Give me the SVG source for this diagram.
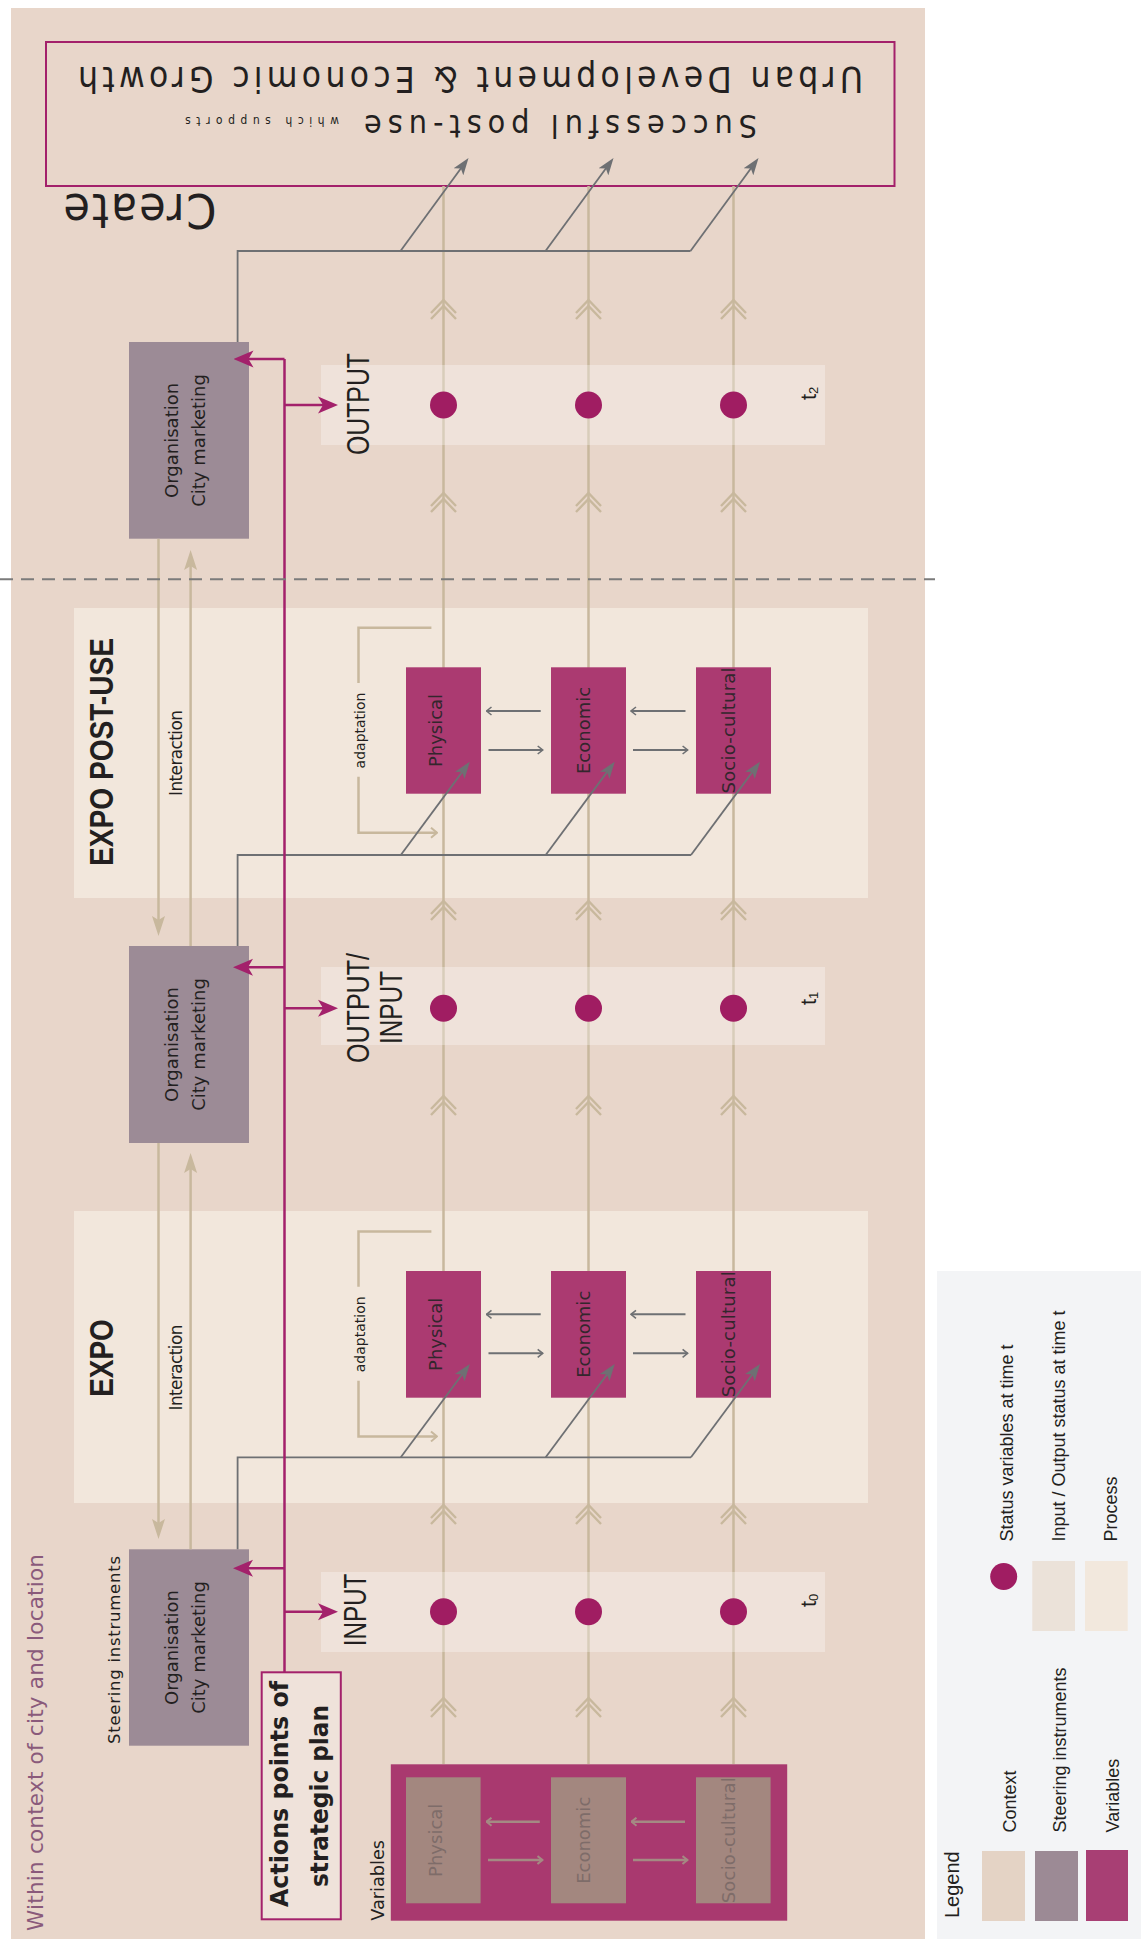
<svg xmlns="http://www.w3.org/2000/svg" xmlns:xlink="http://www.w3.org/1999/xlink" width="1141" height="1939" viewBox="0 0 1141 1939">
  <style>
    .wide { font-family: "DejaVu Sans", "Liberation Sans", sans-serif; fill: #231f20; }
    .plain { font-family: "Liberation Sans", "Noto Sans", sans-serif; fill: #231f20; }
    .cond { font-family: "Liberation Sans Narrow", "DejaVu Sans Condensed", "Liberation Sans", sans-serif; fill: #231f20; }
    .proc { fill: #f2e7dc; }
    .band { fill: #ffffff; fill-opacity: 0.3; }
    .org { fill: #9c8b96; }
    .var { fill: #ab3a71; }
    .dot { fill: #a01d62; }
    .vline { stroke: #c8b89d; stroke-width: 2.5; fill: none; }
    .chev { stroke: #c8b89d; stroke-width: 2.4; fill: none; }
    .gray { stroke: #6e7073; stroke-width: 1.8; fill: none; }
    .mag { stroke: #a3216b; stroke-width: 2.5; fill: none; }
    .small { stroke: #6e7073; stroke-width: 2; fill: none; }
    .smallb { stroke: #a48a83; stroke-width: 2.5; fill: none; }
    .vartxt { font-family: "DejaVu Sans", sans-serif; font-size: 18px; fill: #33262d; }
    .vartxt2 { font-family: "DejaVu Sans", sans-serif; font-size: 18px; fill: #7e6c69; }
  </style>
  <defs>
    <marker id="mMag" viewBox="0 -9 20 18" refX="10" refY="0" markerWidth="20" markerHeight="18" markerUnits="userSpaceOnUse" orient="auto">
      <path d="M0,-8.5 L20,0 L0,8.5 L5,0 Z" fill="#a3216b"/>
    </marker>
    <marker id="mGray" viewBox="0 -7 17 14" refX="8" refY="0" markerWidth="17" markerHeight="14" markerUnits="userSpaceOnUse" orient="auto">
      <path d="M0,-6 L17,0 L0,6 L4,0 Z" fill="#6e7073"/>
    </marker>
    <marker id="mBeige" viewBox="0 -7 20 14" refX="10" refY="0" markerWidth="20" markerHeight="14" markerUnits="userSpaceOnUse" orient="auto">
      <path d="M0,-6.5 L20,0 L0,6.5 L4,0 Z" fill="#c8b89d"/>
    </marker>
    <marker id="mOpenGray" viewBox="-1 -5 7 10" refX="5" refY="0" markerWidth="7" markerHeight="10" markerUnits="userSpaceOnUse" orient="auto">
      <path d="M0,-4 L5,0 L0,4" fill="none" stroke="#6e7073" stroke-width="1.6"/>
    </marker>
    <marker id="mOpenBrown" viewBox="-1 -5 7 10" refX="5" refY="0" markerWidth="7" markerHeight="10" markerUnits="userSpaceOnUse" orient="auto">
      <path d="M0,-4 L5,0 L0,4" fill="none" stroke="#a48a83" stroke-width="2"/>
    </marker>
    <marker id="mOpenBeige" viewBox="-1 -6 8 12" refX="6" refY="0" markerWidth="8" markerHeight="12" markerUnits="userSpaceOnUse" orient="auto">
      <path d="M0,-5 L6,0 L0,5" fill="none" stroke="#c8b89d" stroke-width="2"/>
    </marker>
    <path id="chev" d="M-12.5,13 L0,0 L12.5,13 M-12.5,19 L0,6 L12.5,19"/>
  </defs>

  <!-- page, context area and legend panel -->
  <rect x="0" y="0" width="1141" height="1939" fill="#ffffff"/>
  <rect id="context" x="11" y="8" width="914" height="1931" fill="#e8d6ca"/>
  <rect x="937" y="1271" width="204" height="668" fill="#f3f4f6"/>

  <!-- goal box -->
  <g id="goal">
    <rect x="46" y="42" width="848.5" height="144" fill="none" stroke="#a3216b" stroke-width="2"/>
    <text class="cond" font-size="35" text-anchor="middle" textLength="785" transform="translate(470.5,67) rotate(180)">Urban Development &amp; Economic Growth</text>
    <text class="cond" font-size="32" text-anchor="middle" textLength="393" transform="translate(560.5,115) rotate(180)">Successful post-use</text>
    <text class="cond" font-size="12" text-anchor="middle" textLength="154" transform="translate(262,116.5) rotate(180)">which supports</text>
  </g>
  <text id="create" class="cond" font-size="48" text-anchor="middle" textLength="153" transform="translate(140,194) rotate(180)">Create</text>

  <!-- process phases -->
  <g id="phase-postuse">
    <rect class="proc" x="74" y="608" width="794" height="290"/>
    <text class="plain" font-size="34" font-weight="bold" text-anchor="middle" textLength="228" lengthAdjust="spacingAndGlyphs" transform="translate(112.5,752) rotate(-90)">EXPO POST-USE</text>
  </g>
  <g id="phase-expo">
    <rect class="proc" x="74" y="1211" width="794" height="292"/>
    <text class="plain" font-size="34" font-weight="bold" text-anchor="middle" textLength="77.6" lengthAdjust="spacingAndGlyphs" transform="translate(112.5,1358) rotate(-90)">EXPO</text>
  </g>

  <!-- variable threads with flow chevrons -->
  <g id="threads">
    <path class="vline" d="M443.5,186 V1764 M588.5,186 V1764 M733.5,186 V1764"/>
    <g class="chev">
      <use xlink:href="#chev" x="443.5" y="300"/><use xlink:href="#chev" x="588.5" y="300"/><use xlink:href="#chev" x="733.5" y="300"/>
      <use xlink:href="#chev" x="443.5" y="493"/><use xlink:href="#chev" x="588.5" y="493"/><use xlink:href="#chev" x="733.5" y="493"/>
      <use xlink:href="#chev" x="443.5" y="901"/><use xlink:href="#chev" x="588.5" y="901"/><use xlink:href="#chev" x="733.5" y="901"/>
      <use xlink:href="#chev" x="443.5" y="1096"/><use xlink:href="#chev" x="588.5" y="1096"/><use xlink:href="#chev" x="733.5" y="1096"/>
      <use xlink:href="#chev" x="443.5" y="1505"/><use xlink:href="#chev" x="588.5" y="1505"/><use xlink:href="#chev" x="733.5" y="1505"/>
      <use xlink:href="#chev" x="443.5" y="1698"/><use xlink:href="#chev" x="588.5" y="1698"/><use xlink:href="#chev" x="733.5" y="1698"/>
    </g>
  </g>

  <!-- status bands -->
  <g id="status-t2">
    <rect class="band" x="321" y="365" width="504" height="80"/>
    <circle class="dot" cx="443.5" cy="405" r="13.5"/>
    <circle class="dot" cx="588.5" cy="405" r="13.5"/>
    <circle class="dot" cx="733.5" cy="405" r="13.5"/>
    <text class="plain" font-size="31.5" text-anchor="middle" textLength="102" lengthAdjust="spacingAndGlyphs" transform="translate(368.7,404) rotate(-90)">OUTPUT</text>
    <text class="plain" font-size="22" transform="translate(816,400) rotate(-90)">t<tspan font-size="13" dy="2">2</tspan></text>
  </g>
  <g id="status-t1">
    <rect class="band" x="321" y="967" width="504" height="78"/>
    <circle class="dot" cx="443.5" cy="1008.3" r="13.5"/>
    <circle class="dot" cx="588.5" cy="1008.3" r="13.5"/>
    <circle class="dot" cx="733.5" cy="1008.3" r="13.5"/>
    <text class="plain" font-size="31.5" text-anchor="middle" textLength="110" lengthAdjust="spacingAndGlyphs" transform="translate(368.7,1008) rotate(-90)">OUTPUT/</text>
    <text class="plain" font-size="31.5" text-anchor="middle" textLength="73" lengthAdjust="spacingAndGlyphs" transform="translate(402,1007.5) rotate(-90)">INPUT</text>
    <text class="plain" font-size="22" transform="translate(816,1005) rotate(-90)">t<tspan font-size="13" dy="2">1</tspan></text>
  </g>
  <g id="status-t0">
    <rect class="band" x="321" y="1572" width="504" height="80"/>
    <circle class="dot" cx="443.5" cy="1611.7" r="13.5"/>
    <circle class="dot" cx="588.5" cy="1611.7" r="13.5"/>
    <circle class="dot" cx="733.5" cy="1611.7" r="13.5"/>
    <text class="plain" font-size="31.5" text-anchor="middle" textLength="72.7" lengthAdjust="spacingAndGlyphs" transform="translate(366,1610) rotate(-90)">INPUT</text>
    <text class="plain" font-size="22" transform="translate(816,1607) rotate(-90)">t<tspan font-size="13" dy="2">0</tspan></text>
  </g>

  <!-- steering instruments -->
  <g id="org-t2">
    <rect class="org" x="129" y="342" width="120" height="196.7"/>
    <text class="wide" font-size="18" text-anchor="middle" transform="translate(177.7,440.4) rotate(-90)">Organisation</text>
    <text class="wide" font-size="18" text-anchor="middle" transform="translate(204.7,440.4) rotate(-90)">City marketing</text>
  </g>
  <g id="org-t1">
    <rect class="org" x="129" y="946" width="120" height="197"/>
    <text class="wide" font-size="18" text-anchor="middle" transform="translate(177.7,1044.5) rotate(-90)">Organisation</text>
    <text class="wide" font-size="18" text-anchor="middle" transform="translate(204.7,1044.5) rotate(-90)">City marketing</text>
  </g>
  <g id="org-t0">
    <rect class="org" x="129" y="1549.3" width="120" height="196.4"/>
    <text class="wide" font-size="18" text-anchor="middle" transform="translate(177.7,1647.5) rotate(-90)">Organisation</text>
    <text class="wide" font-size="18" text-anchor="middle" transform="translate(204.7,1647.5) rotate(-90)">City marketing</text>
  </g>
  <text class="wide" font-size="16.5" textLength="188" transform="translate(120,1744) rotate(-90)">Steering instruments</text>
  <text class="wide" font-size="21.5" textLength="377" style="fill:#8a5a7b" transform="translate(43.3,1931) rotate(-90)">Within context of city and location</text>

  <!-- variables inside the post-use process -->
  <g id="vars-postuse">
    <rect class="var" x="406" y="667.3" width="75" height="126.4"/>
    <rect class="var" x="551" y="667.3" width="75" height="126.4"/>
    <rect class="var" x="696" y="667.3" width="75" height="126.4"/>
    <text class="vartxt" text-anchor="middle" transform="translate(442,730.5) rotate(-90)">Physical</text>
    <text class="vartxt" text-anchor="middle" transform="translate(590,730.5) rotate(-90)">Economic</text>
    <text class="vartxt" text-anchor="middle" textLength="126" transform="translate(734.5,730.5) rotate(-90)">Socio-cultural</text>
    <text class="wide" font-size="14" text-anchor="middle" transform="translate(365,730.5) rotate(-90)">adaptation</text>
    <text class="wide" font-size="17" text-anchor="middle" textLength="86" transform="translate(182.4,753) rotate(-90)">Interaction</text>
  </g>

  <!-- variables inside the expo process -->
  <g id="vars-expo">
    <rect class="var" x="406" y="1271" width="75" height="126.7"/>
    <rect class="var" x="551" y="1271" width="75" height="126.7"/>
    <rect class="var" x="696" y="1271" width="75" height="126.7"/>
    <text class="vartxt" text-anchor="middle" transform="translate(442,1334.3) rotate(-90)">Physical</text>
    <text class="vartxt" text-anchor="middle" transform="translate(590,1334.3) rotate(-90)">Economic</text>
    <text class="vartxt" text-anchor="middle" textLength="126" transform="translate(734.5,1334.3) rotate(-90)">Socio-cultural</text>
    <text class="wide" font-size="14" text-anchor="middle" transform="translate(365,1334.3) rotate(-90)">adaptation</text>
    <text class="wide" font-size="17" text-anchor="middle" textLength="86" transform="translate(182.4,1367.5) rotate(-90)">Interaction</text>
  </g>

  <!-- initial variables -->
  <g id="vars-initial">
    <rect x="390.8" y="1764.3" width="396.4" height="156.4" fill="#a9396f"/>
    <rect x="406" y="1777.3" width="74.6" height="126" fill="#a3877f"/>
    <rect x="551" y="1777.3" width="75" height="126" fill="#a3877f"/>
    <rect x="696" y="1777.3" width="74.6" height="126" fill="#a3877f"/>
    <text class="vartxt2" text-anchor="middle" transform="translate(442,1840.3) rotate(-90)">Physical</text>
    <text class="vartxt2" text-anchor="middle" transform="translate(590,1840.3) rotate(-90)">Economic</text>
    <text class="vartxt2" text-anchor="middle" textLength="126" transform="translate(734.5,1840.3) rotate(-90)">Socio-cultural</text>
    <path class="smallb" marker-end="url(#mOpenBrown)" d="M539.8,1821.7 H486.5"/>
    <path class="smallb" marker-end="url(#mOpenBrown)" d="M685,1821.7 H631.5"/>
    <path class="smallb" marker-end="url(#mOpenBrown)" d="M488,1860 H542.5"/>
    <path class="smallb" marker-end="url(#mOpenBrown)" d="M633,1860 H687.5"/>
    <text class="wide" font-size="18" textLength="80.7" lengthAdjust="spacingAndGlyphs" transform="translate(384,1920.7) rotate(-90)">Variables</text>
  </g>

  <!-- strategic plan action points -->
  <g id="actions">
    <rect x="261.7" y="1672.3" width="79.1" height="247" fill="#ffffff" fill-opacity="0.3" stroke="#a3216b" stroke-width="2"/>
    <text class="wide" font-size="25" font-weight="bold" text-anchor="middle" textLength="226" lengthAdjust="spacingAndGlyphs" transform="translate(288,1794) rotate(-90)">Actions points of</text>
    <text class="wide" font-size="25" font-weight="bold" text-anchor="middle" textLength="182" lengthAdjust="spacingAndGlyphs" transform="translate(327.5,1796) rotate(-90)">strategic plan</text>
  </g>

  <!-- connectors -->
  <g id="connectors">
    <!-- interaction between steering instruments -->
    <path class="vline" marker-end="url(#mBeige)" d="M158.5,538.7 V926"/>
    <path class="vline" marker-end="url(#mBeige)" d="M158.5,1143 V1529"/>
    <path class="vline" marker-end="url(#mBeige)" d="M190.6,946 V560"/>
    <path class="vline" marker-end="url(#mBeige)" d="M190.6,1549.3 V1163"/>

    <!-- adaptation loops -->
    <path class="vline" d="M431.4,627.7 H358.5 V683"/>
    <path class="vline" marker-end="url(#mOpenBeige)" d="M358.5,776.7 V832.7 H437"/>
    <path class="vline" d="M431.4,1231.4 H358.5 V1286.7"/>
    <path class="vline" marker-end="url(#mOpenBeige)" d="M358.5,1380.7 V1436.4 H437"/>

    <!-- exchange between variables -->
    <path class="small" marker-end="url(#mOpenGray)" d="M540.7,711 H486.5"/>
    <path class="small" marker-end="url(#mOpenGray)" d="M685.5,711 H631"/>
    <path class="small" marker-end="url(#mOpenGray)" d="M488.5,750 H542.7"/>
    <path class="small" marker-end="url(#mOpenGray)" d="M633,750 H687.6"/>
    <path class="small" marker-end="url(#mOpenGray)" d="M540.7,1314.3 H486.5"/>
    <path class="small" marker-end="url(#mOpenGray)" d="M685.5,1314.3 H631"/>
    <path class="small" marker-end="url(#mOpenGray)" d="M488.5,1353.3 H542.7"/>
    <path class="small" marker-end="url(#mOpenGray)" d="M633,1353.3 H687.6"/>

    <!-- steering influence on variables -->
    <path class="gray" d="M237.6,342 V251 H690.5"/>
    <path class="gray" marker-end="url(#mGray)" d="M400.5,251 L463.2,165.3"/>
    <path class="gray" marker-end="url(#mGray)" d="M545.5,251 L608.2,165.3"/>
    <path class="gray" marker-end="url(#mGray)" d="M690.5,251 L753.2,165.3"/>

    <path class="gray" d="M237.6,946 V855 H691"/>
    <path class="gray" marker-end="url(#mGray)" d="M400.8,855 L464.5,768.9"/>
    <path class="gray" marker-end="url(#mGray)" d="M545.7,855 L609.4,768.9"/>
    <path class="gray" marker-end="url(#mGray)" d="M691,855 L754.7,768.9"/>

    <path class="gray" d="M237.6,1549.3 V1457.3 H691"/>
    <path class="gray" marker-end="url(#mGray)" d="M400.8,1457.3 L464.5,1371.2"/>
    <path class="gray" marker-end="url(#mGray)" d="M545.7,1457.3 L609.4,1371.2"/>
    <path class="gray" marker-end="url(#mGray)" d="M691,1457.3 L754.7,1371.2"/>

    <!-- strategic plan actions -->
    <path class="mag" d="M284.5,1672.3 V359"/>
    <path class="mag" marker-end="url(#mMag)" d="M284.5,359 H243.5"/>
    <path class="mag" marker-end="url(#mMag)" d="M284.5,405 H328"/>
    <path class="mag" marker-end="url(#mMag)" d="M284.5,967.3 H243"/>
    <path class="mag" marker-end="url(#mMag)" d="M284.5,1008.3 H328"/>
    <path class="mag" marker-end="url(#mMag)" d="M284.5,1568.3 H243"/>
    <path class="mag" marker-end="url(#mMag)" d="M284.5,1611.7 H328"/>
  </g>

  <!-- boundary between event period and legacy -->
  <path d="M0,579.3 H935" stroke="#7b7b7b" stroke-width="2" stroke-dasharray="13 8" fill="none"/>

  <!-- legend -->
  <g id="legend">
    <text class="plain" font-size="20" transform="translate(959.3,1918) rotate(-90)">Legend</text>
    <rect x="982" y="1851" width="43" height="70" fill="#e4d3c5"/>
    <rect x="1035" y="1851" width="43" height="70" fill="#9c8a95"/>
    <rect x="1086" y="1850" width="42" height="71" fill="#a83f74"/>
    <text class="plain" font-size="18" transform="translate(1016,1832.5) rotate(-90)">Context</text>
    <text class="plain" font-size="18" transform="translate(1066,1832.5) rotate(-90)">Steering instruments</text>
    <text class="plain" font-size="18" transform="translate(1119,1832.5) rotate(-90)">Variables</text>
    <circle cx="1003.7" cy="1576.5" r="13.5" fill="#a01d62"/>
    <rect x="1032.3" y="1561" width="42.7" height="70" fill="#ebe2d9"/>
    <rect x="1085" y="1561" width="42.7" height="70" fill="#f2e8dd"/>
    <text class="plain" font-size="18" transform="translate(1013,1541.5) rotate(-90)">Status variables at time t</text>
    <text class="plain" font-size="18" transform="translate(1064.6,1541.5) rotate(-90)">Input / Output status at time t</text>
    <text class="plain" font-size="18" transform="translate(1117,1541.5) rotate(-90)">Process</text>
  </g>
</svg>
